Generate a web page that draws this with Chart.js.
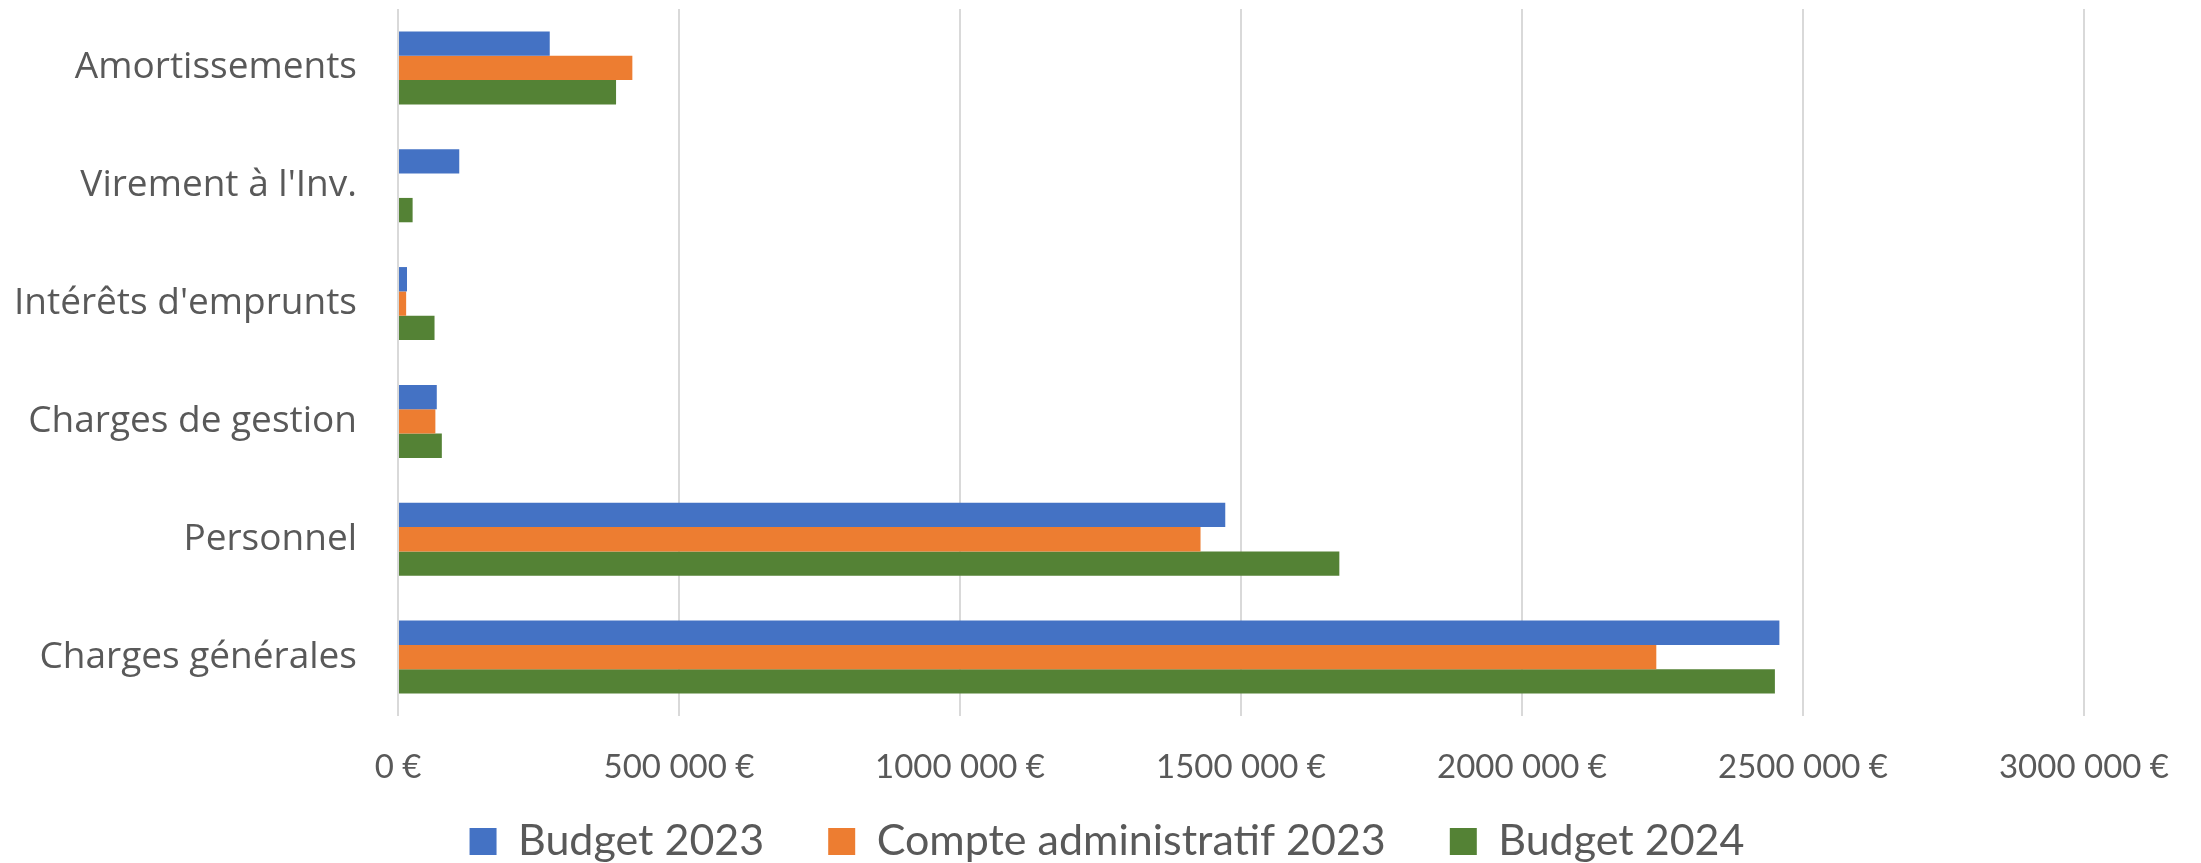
<!DOCTYPE html>
<html>
<head>
<meta charset="utf-8">
<script src="https://cdn.jsdelivr.net/npm/chart.js@4"></script>
<style>
  body { margin: 0; background: #fff; }
  #wrap { width: 2201px; height: 863px; }
</style>
</head>
<body>
<div id="wrap"><canvas id="barChart"></canvas></div>
<script>
var categories = ["Amortissements", "Virement à l'Inv.", "Intérêts d'emprunts", "Charges de gestion", "Personnel", "Charges générales"];
var budget2023 = [270000, 109000, 16000, 69000, 1472000, 2458000];
var compte2023 = [417000, 0, 14500, 66500, 1428000, 2239000];
var budget2024 = [388000, 26000, 65000, 78000, 1675000, 2450000];
var seriesNames = ["Budget 2023", "Compte administratif 2023", "Budget 2024"];

function euro(v) {
	if (v < 1000) return v + " €";
	return Math.floor(v / 1000) + " " + String(v % 1000).padStart(3, "0") + " €";
}

var ctx = document.getElementById("barChart").getContext('2d');
var chart = new Chart(ctx, {
	type: 'bar',
	data: {
		labels: categories,
		datasets: [
			{ label: seriesNames[0], data: budget2023, backgroundColor: "#4472C4" },
			{ label: seriesNames[1], data: compte2023, backgroundColor: "#ED7D31" },
			{ label: seriesNames[2], data: budget2024, backgroundColor: "#548235" }
		]
	},
	options: {
		indexAxis: 'y',
		responsive: true,
		maintainAspectRatio: false,
		animation: false,
		categoryPercentage: 0.62,
		barPercentage: 1,
		layout: { padding: { top: 9, right: 111, bottom: 0, left: 0 } },
		scales: {
			x: {
				min: 0,
				max: 3000000,
				ticks: {
					stepSize: 500000,
					color: "#595959",
					font: { family: "Lato", size: 33 },
					padding: 32,
					callback: function(v) { return euro(v); }
				},
				grid: { color: "#d9d9d9", lineWidth: 2, drawTicks: false },
				border: { display: false },
				afterFit: function(scale) { scale.height = 74; }
			},
			y: {
				ticks: {
					color: "#595959",
					font: { family: "Open Sans", size: 37 },
					padding: 41
				},
				grid: { display: false, drawTicks: false },
				border: { display: false },
				afterFit: function(scale) {
					scale.width = 398;
					scale.paddingTop = 0;
					scale.paddingBottom = 0;
				}
			}
		},
		plugins: {
			legend: {
				position: 'bottom',
				labels: {
					color: "#595959",
					font: { family: "Lato", size: 43 },
					boxWidth: 27,
					boxHeight: 27,
					padding: 64
				}
			},
			tooltip: { enabled: false }
		}
	}
});

// legend padding is used both between items and above them:
// pin the box height and nudge the drawing into place
var legendFit = chart.legend.fit;
chart.legend.fit = function() {
	legendFit.call(this);
	this.height = 73;
};
var legendDraw = chart.legend.draw;
chart.legend.draw = function() {
	this.top -= 34; this.left += 62; this.right += 62;
	legendDraw.call(this);
	this.top += 34; this.left -= 62; this.right -= 62;
};
chart.update();
</script>
</body>
</html>
